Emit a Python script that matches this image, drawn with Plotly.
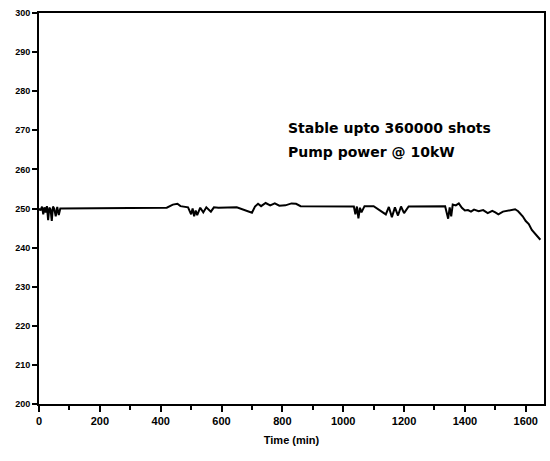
import plotly.graph_objects as go

time_min = [0, 5, 10, 14, 18, 22, 26, 30, 34, 38, 42, 46, 50, 55, 60, 65, 70,
            150, 300, 420, 440, 455, 465, 490,
            500, 505, 510, 515, 520, 530, 540, 550, 565, 575, 590,
            650, 700, 710, 720, 730, 745, 760, 775, 790, 810, 830, 845, 860,
            950, 1035, 1040, 1045, 1050, 1055, 1060, 1070, 1100,
            1140, 1150, 1160, 1170, 1180, 1190, 1200, 1215, 1280, 1335,
            1340, 1345, 1350, 1355, 1360, 1370, 1380, 1390, 1400, 1410, 1420,
            1430, 1445, 1460, 1475, 1490, 1500, 1510, 1525, 1540, 1555, 1565,
            1575, 1590, 1600, 1610, 1620, 1630, 1640, 1648]
values = [250, 249.5, 250.5, 248.5, 250.3, 249, 250.6, 247, 250.2, 249.8, 246.8, 250.5, 250, 248, 250.4, 248.3, 250,
          250, 250.1, 250.2, 251, 251.2, 250.6, 250.3,
          248.5, 250, 248, 249.5, 248.3, 250.2, 249, 250.3, 249.2, 250.3, 250.2,
          250.3, 248.9, 250.5, 251.2, 250.6, 251.4, 250.8, 251.3, 250.7, 250.8, 251.3, 251.2, 250.6,
          250.5, 250.5, 248.5, 250.5, 247.5, 250.2, 249, 250.6, 250.6,
          248.5, 250.4, 247.8, 250.3, 248.2, 250.5, 248.8, 250.5, 250.6, 250.6,
          249, 247.4, 250.3, 248, 251, 250.8, 251.3, 250.2, 249.5, 249.6, 249.2,
          249.7, 249.3, 249.6, 248.8, 249.4, 249, 248.5, 249.2, 249.4, 249.6, 249.8,
          249.3, 248, 246.8, 246, 244.5, 243.5, 242.5, 242]

x_ticks = [0, 200, 400, 600, 800, 1000, 1200, 1400, 1600]
y_ticks = [200, 210, 220, 230, 240, 250, 260, 270, 280, 290, 300]
note_lines = ["Stable upto 360000 shots", "Pump power @ 10kW"]

fig = go.Figure()
fig.add_trace(go.Scatter(x=time_min, y=values, mode="lines",
                         line=dict(color="black", width=2), showlegend=False))

for i, txt in enumerate(note_lines):
    fig.add_annotation(x=0.489, y=0.706 - i * 0.062, xref="paper", yref="paper",
                       xanchor="left", yanchor="middle", text=txt, showarrow=False,
                       font=dict(family="DejaVu Sans", size=14, color="black", weight="bold"))

fig.update_layout(
    width=550, height=461, margin=dict(l=39, r=4, t=13, b=57),
    paper_bgcolor="white", plot_bgcolor="white",
    font=dict(family="Liberation Sans, Arial", color="black"),
    xaxis=dict(range=[0, 1660], tickvals=x_ticks, ticks="outside", ticklen=6, tickwidth=2,
               tickcolor="black", showline=True, linewidth=2, linecolor="black", mirror=True,
               showgrid=False, zeroline=False,
               minor=dict(dtick=100, tick0=0, ticks="outside", ticklen=4, tickwidth=1.5, tickcolor="black"),
               tickfont=dict(size=11, weight="bold"),
               title=dict(text="<b>Time (min)</b>", font=dict(size=11), standoff=10)),
    yaxis=dict(range=[200, 300], tickvals=y_ticks, ticks="outside", ticklen=5, tickwidth=2,
               tickcolor="black", showline=True, linewidth=2, linecolor="black", mirror=True,
               showgrid=False, zeroline=False,
               tickfont=dict(size=9, weight="bold")),
)

fig.write_html("out.html")
